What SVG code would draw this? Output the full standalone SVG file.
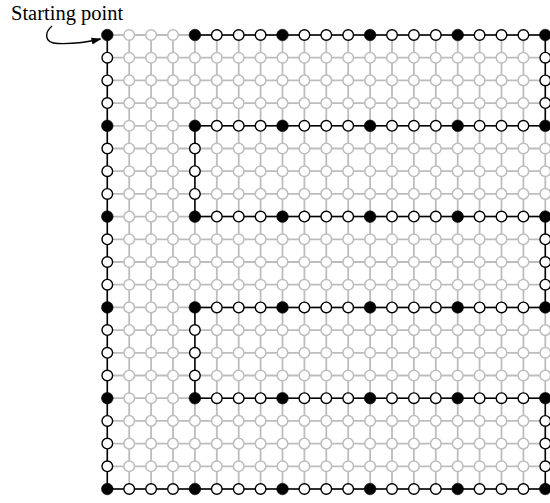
<svg xmlns="http://www.w3.org/2000/svg" xmlns:xlink="http://www.w3.org/1999/xlink" width="550" height="503" viewBox="0 0 550 503">
<style>
.gl{stroke:#bdbdbd;stroke-width:1.8;fill:none}
.bl{stroke:#000;stroke-width:1.5;fill:none}
.lbl{font-family:"Liberation Serif","Times New Roman",serif;font-size:20.5px;fill:#000}
</style>
<defs>
<circle id="g" r="5.3" fill="#fff" stroke="#bdbdbd" stroke-width="1.5"/>
<circle id="p" r="5.3" fill="#fff" stroke="#000" stroke-width="1.4"/>
<circle id="f" r="5.8" fill="#000" stroke="#000" stroke-width="0.6"/>
<marker id="ah" markerWidth="10" markerHeight="8" refX="9" refY="4" orient="auto" markerUnits="userSpaceOnUse">
<path d="M0,0.5 L10,4 L0,7.5 z" fill="#000"/>
</marker>
</defs>
<rect width="550" height="503" fill="#fff"/>
<text class="lbl" x="11" y="19.5">Starting point</text>
<path d="M52,26 C45,32 43,43 58,43.5 C72,44 88,42 100.5,39" fill="none" stroke="#000" stroke-width="1.4" marker-end="url(#ah)"/>
<g transform="translate(107.3,35)">
<g id="connectors">
<g id="grid-lines" class="gl">
<path d="M0,0H438M0,22.7H438M0,45.4H438M0,68.1H438M0,90.8H438M0,113.5H438M0,136.2H438M0,158.9H438M0,181.6H438M0,204.3H438M0,227H438M0,249.7H438M0,272.4H438M0,295.1H438M0,317.8H438M0,340.5H438M0,363.2H438M0,385.9H438M0,408.6H438M0,431.3H438M0,454H438"/>
<path d="M0,0V454M21.9,0V454M43.8,0V454M65.7,0V454M87.6,0V454M109.5,0V454M131.4,0V454M153.3,0V454M175.2,0V454M197.1,0V454M219,0V454M240.9,0V454M262.8,0V454M284.7,0V454M306.6,0V454M328.5,0V454M350.4,0V454M372.3,0V454M394.2,0V454M416.1,0V454M438,0V454"/>
</g>
<path id="route" class="bl" d="M0,0V454H438V363.2H87.6V272.4H438V181.6H87.6V90.8H438V0H87.6"/>
</g>
<g id="r0" transform="translate(0,0)">
<use id="n0-0" href="#f" x="0"/><use id="n0-1" href="#g" x="21.9"/><use id="n0-2" href="#g" x="43.8"/><use id="n0-3" href="#g" x="65.7"/><use id="n0-4" href="#f" x="87.6"/><use id="n0-5" href="#p" x="109.5"/><use id="n0-6" href="#p" x="131.4"/><use id="n0-7" href="#p" x="153.3"/><use id="n0-8" href="#f" x="175.2"/><use id="n0-9" href="#p" x="197.1"/><use id="n0-10" href="#p" x="219"/><use id="n0-11" href="#p" x="240.9"/><use id="n0-12" href="#f" x="262.8"/><use id="n0-13" href="#p" x="284.7"/><use id="n0-14" href="#p" x="306.6"/><use id="n0-15" href="#p" x="328.5"/><use id="n0-16" href="#f" x="350.4"/><use id="n0-17" href="#p" x="372.3"/><use id="n0-18" href="#p" x="394.2"/><use id="n0-19" href="#p" x="416.1"/><use id="n0-20" href="#f" x="438"/>
</g>
<g id="r1" transform="translate(0,22.7)">
<use id="n1-0" href="#p" x="0"/><use id="n1-1" href="#g" x="21.9"/><use id="n1-2" href="#g" x="43.8"/><use id="n1-3" href="#g" x="65.7"/><use id="n1-4" href="#g" x="87.6"/><use id="n1-5" href="#g" x="109.5"/><use id="n1-6" href="#g" x="131.4"/><use id="n1-7" href="#g" x="153.3"/><use id="n1-8" href="#g" x="175.2"/><use id="n1-9" href="#g" x="197.1"/><use id="n1-10" href="#g" x="219"/><use id="n1-11" href="#g" x="240.9"/><use id="n1-12" href="#g" x="262.8"/><use id="n1-13" href="#g" x="284.7"/><use id="n1-14" href="#g" x="306.6"/><use id="n1-15" href="#g" x="328.5"/><use id="n1-16" href="#g" x="350.4"/><use id="n1-17" href="#g" x="372.3"/><use id="n1-18" href="#g" x="394.2"/><use id="n1-19" href="#g" x="416.1"/><use id="n1-20" href="#p" x="438"/>
</g>
<g id="r2" transform="translate(0,45.4)">
<use id="n2-0" href="#p" x="0"/><use id="n2-1" href="#g" x="21.9"/><use id="n2-2" href="#g" x="43.8"/><use id="n2-3" href="#g" x="65.7"/><use id="n2-4" href="#g" x="87.6"/><use id="n2-5" href="#g" x="109.5"/><use id="n2-6" href="#g" x="131.4"/><use id="n2-7" href="#g" x="153.3"/><use id="n2-8" href="#g" x="175.2"/><use id="n2-9" href="#g" x="197.1"/><use id="n2-10" href="#g" x="219"/><use id="n2-11" href="#g" x="240.9"/><use id="n2-12" href="#g" x="262.8"/><use id="n2-13" href="#g" x="284.7"/><use id="n2-14" href="#g" x="306.6"/><use id="n2-15" href="#g" x="328.5"/><use id="n2-16" href="#g" x="350.4"/><use id="n2-17" href="#g" x="372.3"/><use id="n2-18" href="#g" x="394.2"/><use id="n2-19" href="#g" x="416.1"/><use id="n2-20" href="#p" x="438"/>
</g>
<g id="r3" transform="translate(0,68.1)">
<use id="n3-0" href="#p" x="0"/><use id="n3-1" href="#g" x="21.9"/><use id="n3-2" href="#g" x="43.8"/><use id="n3-3" href="#g" x="65.7"/><use id="n3-4" href="#g" x="87.6"/><use id="n3-5" href="#g" x="109.5"/><use id="n3-6" href="#g" x="131.4"/><use id="n3-7" href="#g" x="153.3"/><use id="n3-8" href="#g" x="175.2"/><use id="n3-9" href="#g" x="197.1"/><use id="n3-10" href="#g" x="219"/><use id="n3-11" href="#g" x="240.9"/><use id="n3-12" href="#g" x="262.8"/><use id="n3-13" href="#g" x="284.7"/><use id="n3-14" href="#g" x="306.6"/><use id="n3-15" href="#g" x="328.5"/><use id="n3-16" href="#g" x="350.4"/><use id="n3-17" href="#g" x="372.3"/><use id="n3-18" href="#g" x="394.2"/><use id="n3-19" href="#g" x="416.1"/><use id="n3-20" href="#p" x="438"/>
</g>
<g id="r4" transform="translate(0,90.8)">
<use id="n4-0" href="#f" x="0"/><use id="n4-1" href="#g" x="21.9"/><use id="n4-2" href="#g" x="43.8"/><use id="n4-3" href="#g" x="65.7"/><use id="n4-4" href="#f" x="87.6"/><use id="n4-5" href="#p" x="109.5"/><use id="n4-6" href="#p" x="131.4"/><use id="n4-7" href="#p" x="153.3"/><use id="n4-8" href="#f" x="175.2"/><use id="n4-9" href="#p" x="197.1"/><use id="n4-10" href="#p" x="219"/><use id="n4-11" href="#p" x="240.9"/><use id="n4-12" href="#f" x="262.8"/><use id="n4-13" href="#p" x="284.7"/><use id="n4-14" href="#p" x="306.6"/><use id="n4-15" href="#p" x="328.5"/><use id="n4-16" href="#f" x="350.4"/><use id="n4-17" href="#p" x="372.3"/><use id="n4-18" href="#p" x="394.2"/><use id="n4-19" href="#p" x="416.1"/><use id="n4-20" href="#f" x="438"/>
</g>
<g id="r5" transform="translate(0,113.5)">
<use id="n5-0" href="#p" x="0"/><use id="n5-1" href="#g" x="21.9"/><use id="n5-2" href="#g" x="43.8"/><use id="n5-3" href="#g" x="65.7"/><use id="n5-4" href="#p" x="87.6"/><use id="n5-5" href="#g" x="109.5"/><use id="n5-6" href="#g" x="131.4"/><use id="n5-7" href="#g" x="153.3"/><use id="n5-8" href="#g" x="175.2"/><use id="n5-9" href="#g" x="197.1"/><use id="n5-10" href="#g" x="219"/><use id="n5-11" href="#g" x="240.9"/><use id="n5-12" href="#g" x="262.8"/><use id="n5-13" href="#g" x="284.7"/><use id="n5-14" href="#g" x="306.6"/><use id="n5-15" href="#g" x="328.5"/><use id="n5-16" href="#g" x="350.4"/><use id="n5-17" href="#g" x="372.3"/><use id="n5-18" href="#g" x="394.2"/><use id="n5-19" href="#g" x="416.1"/><use id="n5-20" href="#g" x="438"/>
</g>
<g id="r6" transform="translate(0,136.2)">
<use id="n6-0" href="#p" x="0"/><use id="n6-1" href="#g" x="21.9"/><use id="n6-2" href="#g" x="43.8"/><use id="n6-3" href="#g" x="65.7"/><use id="n6-4" href="#p" x="87.6"/><use id="n6-5" href="#g" x="109.5"/><use id="n6-6" href="#g" x="131.4"/><use id="n6-7" href="#g" x="153.3"/><use id="n6-8" href="#g" x="175.2"/><use id="n6-9" href="#g" x="197.1"/><use id="n6-10" href="#g" x="219"/><use id="n6-11" href="#g" x="240.9"/><use id="n6-12" href="#g" x="262.8"/><use id="n6-13" href="#g" x="284.7"/><use id="n6-14" href="#g" x="306.6"/><use id="n6-15" href="#g" x="328.5"/><use id="n6-16" href="#g" x="350.4"/><use id="n6-17" href="#g" x="372.3"/><use id="n6-18" href="#g" x="394.2"/><use id="n6-19" href="#g" x="416.1"/><use id="n6-20" href="#g" x="438"/>
</g>
<g id="r7" transform="translate(0,158.9)">
<use id="n7-0" href="#p" x="0"/><use id="n7-1" href="#g" x="21.9"/><use id="n7-2" href="#g" x="43.8"/><use id="n7-3" href="#g" x="65.7"/><use id="n7-4" href="#p" x="87.6"/><use id="n7-5" href="#g" x="109.5"/><use id="n7-6" href="#g" x="131.4"/><use id="n7-7" href="#g" x="153.3"/><use id="n7-8" href="#g" x="175.2"/><use id="n7-9" href="#g" x="197.1"/><use id="n7-10" href="#g" x="219"/><use id="n7-11" href="#g" x="240.9"/><use id="n7-12" href="#g" x="262.8"/><use id="n7-13" href="#g" x="284.7"/><use id="n7-14" href="#g" x="306.6"/><use id="n7-15" href="#g" x="328.5"/><use id="n7-16" href="#g" x="350.4"/><use id="n7-17" href="#g" x="372.3"/><use id="n7-18" href="#g" x="394.2"/><use id="n7-19" href="#g" x="416.1"/><use id="n7-20" href="#g" x="438"/>
</g>
<g id="r8" transform="translate(0,181.6)">
<use id="n8-0" href="#f" x="0"/><use id="n8-1" href="#g" x="21.9"/><use id="n8-2" href="#g" x="43.8"/><use id="n8-3" href="#g" x="65.7"/><use id="n8-4" href="#f" x="87.6"/><use id="n8-5" href="#p" x="109.5"/><use id="n8-6" href="#p" x="131.4"/><use id="n8-7" href="#p" x="153.3"/><use id="n8-8" href="#f" x="175.2"/><use id="n8-9" href="#p" x="197.1"/><use id="n8-10" href="#p" x="219"/><use id="n8-11" href="#p" x="240.9"/><use id="n8-12" href="#f" x="262.8"/><use id="n8-13" href="#p" x="284.7"/><use id="n8-14" href="#p" x="306.6"/><use id="n8-15" href="#p" x="328.5"/><use id="n8-16" href="#f" x="350.4"/><use id="n8-17" href="#p" x="372.3"/><use id="n8-18" href="#p" x="394.2"/><use id="n8-19" href="#p" x="416.1"/><use id="n8-20" href="#f" x="438"/>
</g>
<g id="r9" transform="translate(0,204.3)">
<use id="n9-0" href="#p" x="0"/><use id="n9-1" href="#g" x="21.9"/><use id="n9-2" href="#g" x="43.8"/><use id="n9-3" href="#g" x="65.7"/><use id="n9-4" href="#g" x="87.6"/><use id="n9-5" href="#g" x="109.5"/><use id="n9-6" href="#g" x="131.4"/><use id="n9-7" href="#g" x="153.3"/><use id="n9-8" href="#g" x="175.2"/><use id="n9-9" href="#g" x="197.1"/><use id="n9-10" href="#g" x="219"/><use id="n9-11" href="#g" x="240.9"/><use id="n9-12" href="#g" x="262.8"/><use id="n9-13" href="#g" x="284.7"/><use id="n9-14" href="#g" x="306.6"/><use id="n9-15" href="#g" x="328.5"/><use id="n9-16" href="#g" x="350.4"/><use id="n9-17" href="#g" x="372.3"/><use id="n9-18" href="#g" x="394.2"/><use id="n9-19" href="#g" x="416.1"/><use id="n9-20" href="#p" x="438"/>
</g>
<g id="r10" transform="translate(0,227)">
<use id="n10-0" href="#p" x="0"/><use id="n10-1" href="#g" x="21.9"/><use id="n10-2" href="#g" x="43.8"/><use id="n10-3" href="#g" x="65.7"/><use id="n10-4" href="#g" x="87.6"/><use id="n10-5" href="#g" x="109.5"/><use id="n10-6" href="#g" x="131.4"/><use id="n10-7" href="#g" x="153.3"/><use id="n10-8" href="#g" x="175.2"/><use id="n10-9" href="#g" x="197.1"/><use id="n10-10" href="#g" x="219"/><use id="n10-11" href="#g" x="240.9"/><use id="n10-12" href="#g" x="262.8"/><use id="n10-13" href="#g" x="284.7"/><use id="n10-14" href="#g" x="306.6"/><use id="n10-15" href="#g" x="328.5"/><use id="n10-16" href="#g" x="350.4"/><use id="n10-17" href="#g" x="372.3"/><use id="n10-18" href="#g" x="394.2"/><use id="n10-19" href="#g" x="416.1"/><use id="n10-20" href="#p" x="438"/>
</g>
<g id="r11" transform="translate(0,249.7)">
<use id="n11-0" href="#p" x="0"/><use id="n11-1" href="#g" x="21.9"/><use id="n11-2" href="#g" x="43.8"/><use id="n11-3" href="#g" x="65.7"/><use id="n11-4" href="#g" x="87.6"/><use id="n11-5" href="#g" x="109.5"/><use id="n11-6" href="#g" x="131.4"/><use id="n11-7" href="#g" x="153.3"/><use id="n11-8" href="#g" x="175.2"/><use id="n11-9" href="#g" x="197.1"/><use id="n11-10" href="#g" x="219"/><use id="n11-11" href="#g" x="240.9"/><use id="n11-12" href="#g" x="262.8"/><use id="n11-13" href="#g" x="284.7"/><use id="n11-14" href="#g" x="306.6"/><use id="n11-15" href="#g" x="328.5"/><use id="n11-16" href="#g" x="350.4"/><use id="n11-17" href="#g" x="372.3"/><use id="n11-18" href="#g" x="394.2"/><use id="n11-19" href="#g" x="416.1"/><use id="n11-20" href="#p" x="438"/>
</g>
<g id="r12" transform="translate(0,272.4)">
<use id="n12-0" href="#f" x="0"/><use id="n12-1" href="#g" x="21.9"/><use id="n12-2" href="#g" x="43.8"/><use id="n12-3" href="#g" x="65.7"/><use id="n12-4" href="#f" x="87.6"/><use id="n12-5" href="#p" x="109.5"/><use id="n12-6" href="#p" x="131.4"/><use id="n12-7" href="#p" x="153.3"/><use id="n12-8" href="#f" x="175.2"/><use id="n12-9" href="#p" x="197.1"/><use id="n12-10" href="#p" x="219"/><use id="n12-11" href="#p" x="240.9"/><use id="n12-12" href="#f" x="262.8"/><use id="n12-13" href="#p" x="284.7"/><use id="n12-14" href="#p" x="306.6"/><use id="n12-15" href="#p" x="328.5"/><use id="n12-16" href="#f" x="350.4"/><use id="n12-17" href="#p" x="372.3"/><use id="n12-18" href="#p" x="394.2"/><use id="n12-19" href="#p" x="416.1"/><use id="n12-20" href="#f" x="438"/>
</g>
<g id="r13" transform="translate(0,295.1)">
<use id="n13-0" href="#p" x="0"/><use id="n13-1" href="#g" x="21.9"/><use id="n13-2" href="#g" x="43.8"/><use id="n13-3" href="#g" x="65.7"/><use id="n13-4" href="#p" x="87.6"/><use id="n13-5" href="#g" x="109.5"/><use id="n13-6" href="#g" x="131.4"/><use id="n13-7" href="#g" x="153.3"/><use id="n13-8" href="#g" x="175.2"/><use id="n13-9" href="#g" x="197.1"/><use id="n13-10" href="#g" x="219"/><use id="n13-11" href="#g" x="240.9"/><use id="n13-12" href="#g" x="262.8"/><use id="n13-13" href="#g" x="284.7"/><use id="n13-14" href="#g" x="306.6"/><use id="n13-15" href="#g" x="328.5"/><use id="n13-16" href="#g" x="350.4"/><use id="n13-17" href="#g" x="372.3"/><use id="n13-18" href="#g" x="394.2"/><use id="n13-19" href="#g" x="416.1"/><use id="n13-20" href="#g" x="438"/>
</g>
<g id="r14" transform="translate(0,317.8)">
<use id="n14-0" href="#p" x="0"/><use id="n14-1" href="#g" x="21.9"/><use id="n14-2" href="#g" x="43.8"/><use id="n14-3" href="#g" x="65.7"/><use id="n14-4" href="#p" x="87.6"/><use id="n14-5" href="#g" x="109.5"/><use id="n14-6" href="#g" x="131.4"/><use id="n14-7" href="#g" x="153.3"/><use id="n14-8" href="#g" x="175.2"/><use id="n14-9" href="#g" x="197.1"/><use id="n14-10" href="#g" x="219"/><use id="n14-11" href="#g" x="240.9"/><use id="n14-12" href="#g" x="262.8"/><use id="n14-13" href="#g" x="284.7"/><use id="n14-14" href="#g" x="306.6"/><use id="n14-15" href="#g" x="328.5"/><use id="n14-16" href="#g" x="350.4"/><use id="n14-17" href="#g" x="372.3"/><use id="n14-18" href="#g" x="394.2"/><use id="n14-19" href="#g" x="416.1"/><use id="n14-20" href="#g" x="438"/>
</g>
<g id="r15" transform="translate(0,340.5)">
<use id="n15-0" href="#p" x="0"/><use id="n15-1" href="#g" x="21.9"/><use id="n15-2" href="#g" x="43.8"/><use id="n15-3" href="#g" x="65.7"/><use id="n15-4" href="#p" x="87.6"/><use id="n15-5" href="#g" x="109.5"/><use id="n15-6" href="#g" x="131.4"/><use id="n15-7" href="#g" x="153.3"/><use id="n15-8" href="#g" x="175.2"/><use id="n15-9" href="#g" x="197.1"/><use id="n15-10" href="#g" x="219"/><use id="n15-11" href="#g" x="240.9"/><use id="n15-12" href="#g" x="262.8"/><use id="n15-13" href="#g" x="284.7"/><use id="n15-14" href="#g" x="306.6"/><use id="n15-15" href="#g" x="328.5"/><use id="n15-16" href="#g" x="350.4"/><use id="n15-17" href="#g" x="372.3"/><use id="n15-18" href="#g" x="394.2"/><use id="n15-19" href="#g" x="416.1"/><use id="n15-20" href="#g" x="438"/>
</g>
<g id="r16" transform="translate(0,363.2)">
<use id="n16-0" href="#f" x="0"/><use id="n16-1" href="#g" x="21.9"/><use id="n16-2" href="#g" x="43.8"/><use id="n16-3" href="#g" x="65.7"/><use id="n16-4" href="#f" x="87.6"/><use id="n16-5" href="#p" x="109.5"/><use id="n16-6" href="#p" x="131.4"/><use id="n16-7" href="#p" x="153.3"/><use id="n16-8" href="#f" x="175.2"/><use id="n16-9" href="#p" x="197.1"/><use id="n16-10" href="#p" x="219"/><use id="n16-11" href="#p" x="240.9"/><use id="n16-12" href="#f" x="262.8"/><use id="n16-13" href="#p" x="284.7"/><use id="n16-14" href="#p" x="306.6"/><use id="n16-15" href="#p" x="328.5"/><use id="n16-16" href="#f" x="350.4"/><use id="n16-17" href="#p" x="372.3"/><use id="n16-18" href="#p" x="394.2"/><use id="n16-19" href="#p" x="416.1"/><use id="n16-20" href="#f" x="438"/>
</g>
<g id="r17" transform="translate(0,385.9)">
<use id="n17-0" href="#p" x="0"/><use id="n17-1" href="#g" x="21.9"/><use id="n17-2" href="#g" x="43.8"/><use id="n17-3" href="#g" x="65.7"/><use id="n17-4" href="#g" x="87.6"/><use id="n17-5" href="#g" x="109.5"/><use id="n17-6" href="#g" x="131.4"/><use id="n17-7" href="#g" x="153.3"/><use id="n17-8" href="#g" x="175.2"/><use id="n17-9" href="#g" x="197.1"/><use id="n17-10" href="#g" x="219"/><use id="n17-11" href="#g" x="240.9"/><use id="n17-12" href="#g" x="262.8"/><use id="n17-13" href="#g" x="284.7"/><use id="n17-14" href="#g" x="306.6"/><use id="n17-15" href="#g" x="328.5"/><use id="n17-16" href="#g" x="350.4"/><use id="n17-17" href="#g" x="372.3"/><use id="n17-18" href="#g" x="394.2"/><use id="n17-19" href="#g" x="416.1"/><use id="n17-20" href="#p" x="438"/>
</g>
<g id="r18" transform="translate(0,408.6)">
<use id="n18-0" href="#p" x="0"/><use id="n18-1" href="#g" x="21.9"/><use id="n18-2" href="#g" x="43.8"/><use id="n18-3" href="#g" x="65.7"/><use id="n18-4" href="#g" x="87.6"/><use id="n18-5" href="#g" x="109.5"/><use id="n18-6" href="#g" x="131.4"/><use id="n18-7" href="#g" x="153.3"/><use id="n18-8" href="#g" x="175.2"/><use id="n18-9" href="#g" x="197.1"/><use id="n18-10" href="#g" x="219"/><use id="n18-11" href="#g" x="240.9"/><use id="n18-12" href="#g" x="262.8"/><use id="n18-13" href="#g" x="284.7"/><use id="n18-14" href="#g" x="306.6"/><use id="n18-15" href="#g" x="328.5"/><use id="n18-16" href="#g" x="350.4"/><use id="n18-17" href="#g" x="372.3"/><use id="n18-18" href="#g" x="394.2"/><use id="n18-19" href="#g" x="416.1"/><use id="n18-20" href="#p" x="438"/>
</g>
<g id="r19" transform="translate(0,431.3)">
<use id="n19-0" href="#p" x="0"/><use id="n19-1" href="#g" x="21.9"/><use id="n19-2" href="#g" x="43.8"/><use id="n19-3" href="#g" x="65.7"/><use id="n19-4" href="#g" x="87.6"/><use id="n19-5" href="#g" x="109.5"/><use id="n19-6" href="#g" x="131.4"/><use id="n19-7" href="#g" x="153.3"/><use id="n19-8" href="#g" x="175.2"/><use id="n19-9" href="#g" x="197.1"/><use id="n19-10" href="#g" x="219"/><use id="n19-11" href="#g" x="240.9"/><use id="n19-12" href="#g" x="262.8"/><use id="n19-13" href="#g" x="284.7"/><use id="n19-14" href="#g" x="306.6"/><use id="n19-15" href="#g" x="328.5"/><use id="n19-16" href="#g" x="350.4"/><use id="n19-17" href="#g" x="372.3"/><use id="n19-18" href="#g" x="394.2"/><use id="n19-19" href="#g" x="416.1"/><use id="n19-20" href="#p" x="438"/>
</g>
<g id="r20" transform="translate(0,454)">
<use id="n20-0" href="#f" x="0"/><use id="n20-1" href="#p" x="21.9"/><use id="n20-2" href="#p" x="43.8"/><use id="n20-3" href="#p" x="65.7"/><use id="n20-4" href="#f" x="87.6"/><use id="n20-5" href="#p" x="109.5"/><use id="n20-6" href="#p" x="131.4"/><use id="n20-7" href="#p" x="153.3"/><use id="n20-8" href="#f" x="175.2"/><use id="n20-9" href="#p" x="197.1"/><use id="n20-10" href="#p" x="219"/><use id="n20-11" href="#p" x="240.9"/><use id="n20-12" href="#f" x="262.8"/><use id="n20-13" href="#p" x="284.7"/><use id="n20-14" href="#p" x="306.6"/><use id="n20-15" href="#p" x="328.5"/><use id="n20-16" href="#f" x="350.4"/><use id="n20-17" href="#p" x="372.3"/><use id="n20-18" href="#p" x="394.2"/><use id="n20-19" href="#p" x="416.1"/><use id="n20-20" href="#f" x="438"/>
</g>
</g>
</svg>
